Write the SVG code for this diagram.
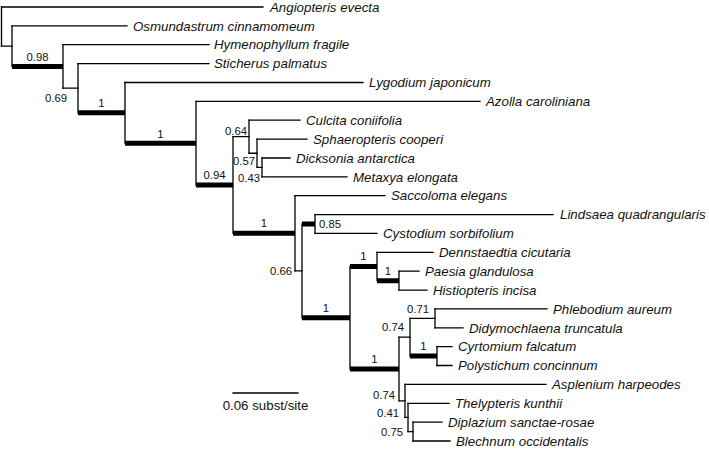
<svg xmlns="http://www.w3.org/2000/svg" width="709" height="450" viewBox="0 0 709 450">
<style>
.br{fill:none;stroke:#000;stroke-width:1.3;stroke-linecap:square}
.thick{fill:none;stroke:#000;stroke-width:5;stroke-linecap:butt}
.tx{font-family:"Liberation Sans",Arial,sans-serif;font-size:13.3px;font-style:italic;fill:#111}
.sv{font-family:"Liberation Sans",Arial,sans-serif;font-size:11.3px;fill:#111}
.sc{font-family:"Liberation Sans",Arial,sans-serif;font-size:13.3px;fill:#111}
</style>
<rect width="709" height="450" fill="#fff"/>
<g id="connectors">
<path class="br" d="M1.5 7V46.2M12 25.9V66.45M63 44.7V88.2M78 63.6V112.85M125 82.5V143.2M196 101.4V185M233 136.7V233.3M249 120.2V153.25M257 139.1V167.4M262 158V176.8M295 195.7V270.9M302 224V317.8M315 214.6V233.4M350 266.5V369.05M377 252.3V280.65M399 271.2V290.1M399 337.2V400.9M410 318.35V356.1M435 308.9V327.8M437 346.7V365.5M405 384.4V417.4M408 403.3V431.55M413 422.1V441"/>
<path class="br" d="M1.5 7H263M12 25.9H127M1.5 46.2H12M63 44.7H209M63 88.2H78M78 63.6H209M125 82.5H363M196 101.4H480M233 136.7H249M249 120.2H300M249 153.25H257M257 139.1H307M257 167.4H262M262 158H290M262 176.8H347M295 195.7H385M295 270.9H302M315 214.6H553M315 233.4H377M377 252.3H433M399 271.2H419M399 290.1H427M399 337.2H410M410 318.35H435M435 308.9H547M435 327.8H463M437 346.7H452M437 365.5H452M399 400.9H405M405 384.4H546M405 417.4H408M408 403.3H449M408 431.55H413M413 422.1H442M413 441H450"/>
<path class="thick" d="M12 66.45H63M78 112.85H125M125 143.2H196M196 185H233M233 233.3H295M302 224H315M302 317.8H350M350 266.5H377M377 280.65H399M350 369.05H399M410 356.1H437"/>
</g>
<g id="tip-angiopteris"><text class="tx" x="270" y="11.7">Angiopteris evecta</text></g>
<g id="tip-osmundastrum"><text class="tx" x="133" y="30.6">Osmundastrum cinnamomeum</text></g>
<g id="tip-hymenophyllum"><text class="tx" x="214" y="49.4">Hymenophyllum fragile</text></g>
<g id="tip-sticherus"><text class="tx" x="214" y="68.3">Sticherus palmatus</text></g>
<g id="tip-lygodium"><text class="tx" x="369" y="87.2">Lygodium japonicum</text></g>
<g id="tip-azolla"><text class="tx" x="486" y="106.1">Azolla caroliniana</text></g>
<g id="tip-culcita"><text class="tx" x="306" y="124.9">Culcita coniifolia</text></g>
<g id="tip-sphaeropteris"><text class="tx" x="313" y="143.8">Sphaeropteris cooperi</text></g>
<g id="tip-dicksonia"><text class="tx" x="296" y="162.7">Dicksonia antarctica</text></g>
<g id="tip-metaxya"><text class="tx" x="353" y="181.5">Metaxya elongata</text></g>
<g id="tip-saccoloma"><text class="tx" x="391" y="200.4">Saccoloma elegans</text></g>
<g id="tip-lindsaea"><text class="tx" x="560" y="219.3">Lindsaea quadrangularis</text></g>
<g id="tip-cystodium"><text class="tx" x="383" y="238.1">Cystodium sorbifolium</text></g>
<g id="tip-dennstaedtia"><text class="tx" x="439" y="257">Dennstaedtia cicutaria</text></g>
<g id="tip-paesia"><text class="tx" x="425" y="275.9">Paesia glandulosa</text></g>
<g id="tip-histiopteris"><text class="tx" x="433" y="294.8">Histiopteris incisa</text></g>
<g id="tip-phlebodium"><text class="tx" x="553" y="313.6">Phlebodium aureum</text></g>
<g id="tip-didymochlaena"><text class="tx" x="469" y="332.5">Didymochlaena truncatula</text></g>
<g id="tip-cyrtomium"><text class="tx" x="458" y="351.4">Cyrtomium falcatum</text></g>
<g id="tip-polystichum"><text class="tx" x="458" y="370.2">Polystichum concinnum</text></g>
<g id="tip-asplenium"><text class="tx" x="552" y="389.1">Asplenium harpeodes</text></g>
<g id="tip-thelypteris"><text class="tx" x="455" y="408">Thelypteris kunthii</text></g>
<g id="tip-diplazium"><text class="tx" x="448" y="426.8">Diplazium sanctae-rosae</text></g>
<g id="tip-blechnum"><text class="tx" x="456" y="445.7">Blechnum occidentalis</text></g>
<g id="node-n12"><text class="sv" x="37.5" y="61" text-anchor="middle">0.98</text></g>
<g id="node-n63"><text class="sv" x="67" y="102" text-anchor="end">0.69</text></g>
<g id="node-n78"><text class="sv" x="101.5" y="107" text-anchor="middle">1</text></g>
<g id="node-n125"><text class="sv" x="160.5" y="137.5" text-anchor="middle">1</text></g>
<g id="node-n196"><text class="sv" x="214.5" y="179" text-anchor="middle">0.94</text></g>
<g id="node-n233"><text class="sv" x="247" y="134.5" text-anchor="end">0.64</text></g>
<g id="node-n249"><text class="sv" x="255" y="165" text-anchor="end">0.57</text></g>
<g id="node-n257"><text class="sv" x="260" y="181.5" text-anchor="end">0.43</text></g>
<g id="node-n233b"><text class="sv" x="264" y="227" text-anchor="middle">1</text></g>
<g id="node-n295"><text class="sv" x="292" y="275" text-anchor="end">0.66</text></g>
<g id="node-n302"><text class="sv" x="319" y="228">0.85</text></g>
<g id="node-n302b"><text class="sv" x="326" y="311.5" text-anchor="middle">1</text></g>
<g id="node-n350"><text class="sv" x="363.5" y="260" text-anchor="middle">1</text></g>
<g id="node-n377"><text class="sv" x="388" y="275" text-anchor="middle">1</text></g>
<g id="node-n350b"><text class="sv" x="374.5" y="363" text-anchor="middle">1</text></g>
<g id="node-n399"><text class="sv" x="404" y="331" text-anchor="end">0.74</text></g>
<g id="node-n410"><text class="sv" x="429" y="313" text-anchor="end">0.71</text></g>
<g id="node-n410b"><text class="sv" x="423.5" y="350" text-anchor="middle">1</text></g>
<g id="node-n399b"><text class="sv" x="395" y="399" text-anchor="end">0.74</text></g>
<g id="node-n405"><text class="sv" x="399" y="417" text-anchor="end">0.41</text></g>
<g id="node-n408"><text class="sv" x="403" y="435.5" text-anchor="end">0.75</text></g>
<g id="scale-bar">
<path class="br" d="M233 393H298"/>
<text class="sc" x="265.5" y="410" text-anchor="middle">0.06 subst/site</text>
</g>
</svg>
